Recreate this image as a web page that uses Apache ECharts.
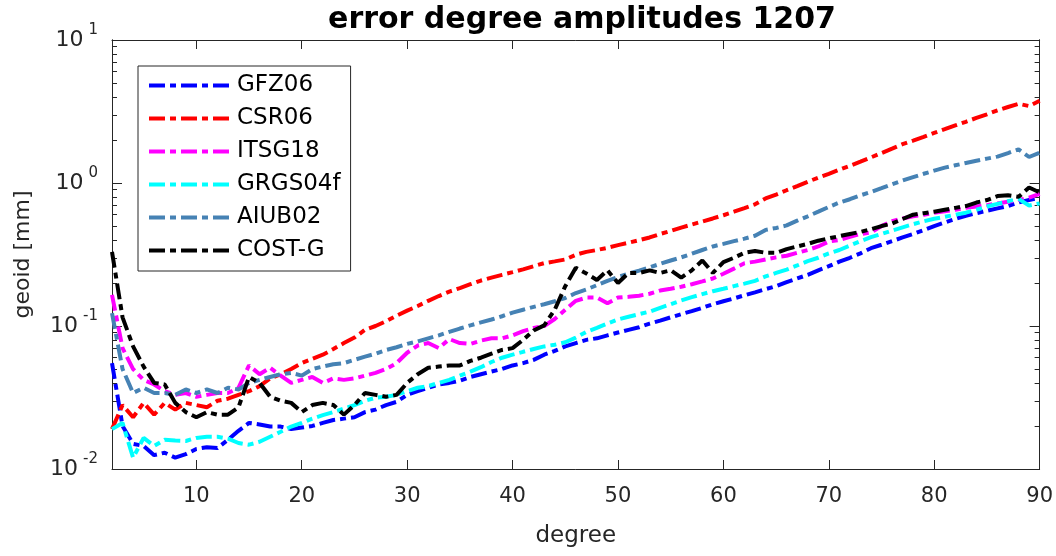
<!DOCTYPE html>
<html>
<head>
<meta charset="utf-8">
<script src="https://cdn.jsdelivr.net/npm/echarts@6/dist/echarts.min.js"></script>
<style>
  html, body { margin: 0; padding: 0; background: #fff; }
  #chart { width: 1056px; height: 556px; }
</style>
</head>
<body>
<div id="chart"></div>
<script>
// degrees 2..90
var degrees = [];
for (var d = 2; d <= 90; d++) degrees.push(d);

var gfz06 = [0.055, 0.020, 0.015, 0.0145, 0.0125, 0.013, 0.012, 0.0127, 0.0138, 0.0142,
  0.014, 0.016, 0.0185, 0.021, 0.0205, 0.0198, 0.0198, 0.019, 0.0195, 0.020,
  0.021, 0.022, 0.0225, 0.023, 0.025, 0.026, 0.028, 0.0295, 0.033, 0.035,
  0.037, 0.039, 0.040, 0.0415, 0.044, 0.046, 0.048, 0.050, 0.053, 0.055,
  0.058, 0.063, 0.067, 0.072, 0.076, 0.080, 0.082, 0.086, 0.090, 0.094,
  0.098, 0.104, 0.109, 0.115, 0.121, 0.127, 0.134, 0.142, 0.149, 0.156,
  0.164, 0.172, 0.181, 0.190, 0.203, 0.215, 0.228, 0.245, 0.262, 0.282,
  0.300, 0.322, 0.350, 0.370, 0.392, 0.416, 0.44, 0.468, 0.50, 0.53,
  0.56, 0.59, 0.615, 0.64, 0.665, 0.69, 0.73, 0.76, 0.79];

var csr06 = [0.019, 0.028, 0.023, 0.029, 0.024, 0.029, 0.026, 0.029, 0.028, 0.027,
  0.030, 0.031, 0.033, 0.035, 0.038, 0.043, 0.046, 0.050, 0.055, 0.059,
  0.063, 0.069, 0.076, 0.083, 0.094, 0.100, 0.108, 0.118, 0.128, 0.138,
  0.150, 0.162, 0.174, 0.184, 0.196, 0.208, 0.218, 0.228, 0.238, 0.249,
  0.262, 0.275, 0.283, 0.292, 0.315, 0.330, 0.340, 0.352, 0.368, 0.382,
  0.398, 0.416, 0.440, 0.462, 0.488, 0.512, 0.538, 0.565, 0.595, 0.630,
  0.668, 0.71, 0.78, 0.83, 0.89, 0.95, 1.02, 1.09, 1.16, 1.24,
  1.32, 1.41, 1.51, 1.62, 1.74, 1.87, 1.98, 2.10, 2.24, 2.38,
  2.53, 2.68, 2.85, 3.02, 3.22, 3.40, 3.58, 3.45, 3.76];

var itsg18 = [0.165, 0.070, 0.050, 0.042, 0.039, 0.035, 0.033, 0.034, 0.032, 0.033,
  0.034, 0.034, 0.037, 0.053, 0.046, 0.051, 0.045, 0.040, 0.042, 0.044,
  0.040, 0.043, 0.042, 0.043, 0.045, 0.047, 0.050, 0.055, 0.065, 0.073,
  0.076, 0.070, 0.081, 0.076, 0.075, 0.079, 0.082, 0.082, 0.086, 0.092,
  0.097, 0.100, 0.112, 0.130, 0.150, 0.158, 0.158, 0.144, 0.158, 0.160,
  0.163, 0.168, 0.177, 0.182, 0.188, 0.196, 0.205, 0.215, 0.232, 0.252,
  0.275, 0.282, 0.292, 0.302, 0.31, 0.325, 0.34, 0.36, 0.39, 0.40,
  0.42, 0.44, 0.45, 0.50, 0.54, 0.565, 0.585, 0.60, 0.62, 0.635,
  0.65, 0.67, 0.685, 0.70, 0.72, 0.74, 0.76, 0.79, 0.84];

var grgs04f = [0.019, 0.021, 0.012, 0.0165, 0.0145, 0.016, 0.0158, 0.0157, 0.0165, 0.0168,
  0.0168, 0.0163, 0.0152, 0.0148, 0.0155, 0.0168, 0.0182, 0.0198, 0.021, 0.0225,
  0.0238, 0.025, 0.0265, 0.028, 0.030, 0.0315, 0.032, 0.033, 0.035, 0.037,
  0.038, 0.040, 0.042, 0.045, 0.048, 0.0515, 0.056, 0.060, 0.063, 0.066,
  0.069, 0.072, 0.074, 0.077, 0.083, 0.091, 0.097, 0.104, 0.111, 0.116,
  0.121, 0.126, 0.134, 0.142, 0.151, 0.159, 0.167, 0.175, 0.182, 0.190,
  0.198, 0.207, 0.222, 0.235, 0.248, 0.265, 0.284, 0.300, 0.322, 0.340,
  0.365, 0.392, 0.418, 0.44, 0.465, 0.49, 0.515, 0.54, 0.562, 0.58,
  0.60, 0.62, 0.65, 0.685, 0.715, 0.745, 0.775, 0.695, 0.72];

var aiub02 = [0.123, 0.050, 0.034, 0.037, 0.034, 0.034, 0.033, 0.036, 0.034, 0.036,
  0.034, 0.037, 0.036, 0.040, 0.042, 0.044, 0.046, 0.047, 0.045, 0.050,
  0.052, 0.054, 0.055, 0.058, 0.061, 0.064, 0.068, 0.071, 0.075, 0.078,
  0.082, 0.086, 0.091, 0.096, 0.101, 0.106, 0.111, 0.117, 0.124, 0.130,
  0.136, 0.142, 0.149, 0.157, 0.170, 0.180, 0.193, 0.207, 0.220, 0.232,
  0.244, 0.257, 0.272, 0.287, 0.302, 0.320, 0.340, 0.360, 0.375, 0.392,
  0.408, 0.428, 0.470, 0.485, 0.505, 0.545, 0.585, 0.63, 0.68, 0.73,
  0.77, 0.82, 0.865, 0.92, 0.98, 1.04, 1.10, 1.16, 1.22, 1.28,
  1.33, 1.38, 1.43, 1.48, 1.53, 1.62, 1.72, 1.52, 1.63];

var costg = [0.33, 0.115, 0.072, 0.052, 0.040, 0.039, 0.029, 0.025, 0.023, 0.025,
  0.024, 0.024, 0.027, 0.044, 0.040, 0.032, 0.030, 0.029, 0.025, 0.028,
  0.029, 0.028, 0.024, 0.028, 0.034, 0.033, 0.032, 0.033, 0.040, 0.046,
  0.051, 0.052, 0.053, 0.053, 0.057, 0.060, 0.064, 0.068, 0.070, 0.080,
  0.093, 0.101, 0.130, 0.190, 0.255, 0.233, 0.210, 0.245, 0.200, 0.235,
  0.235, 0.245, 0.235, 0.245, 0.218, 0.245, 0.287, 0.235, 0.280, 0.300,
  0.325, 0.335, 0.325, 0.325, 0.345, 0.360, 0.375, 0.395, 0.41, 0.425,
  0.44, 0.455, 0.475, 0.50, 0.52, 0.56, 0.60, 0.615, 0.63, 0.65,
  0.67, 0.69, 0.73, 0.76, 0.81, 0.82, 0.80, 0.93, 0.86];

var xTicks = [10, 20, 30, 40, 50, 60, 70, 80, 90];
var yMinorTicks = [0.02, 0.03, 0.04, 0.05, 0.06, 0.07, 0.08, 0.09,
  0.2, 0.3, 0.4, 0.5, 0.6, 0.7, 0.8, 0.9,
  2, 3, 4, 5, 6, 7, 8, 9];

var names = ['GFZ06', 'CSR06', 'ITSG18', 'GRGS04f', 'AIUB02', 'COST-G'];
var colors = ['#0000ff', '#ff0000', '#ff00ff', '#00ffff', '#4682b4', '#000000'];
var values = [gfz06, csr06, itsg18, grgs04f, aiub02, costg];

var FONT = '"DejaVu Sans", sans-serif';
var AX = '#262626';
var DASH = [16, 5, 6, 5];

var pairs = function (vals) {
  var out = [];
  for (var i = 0; i < degrees.length; i++) out.push([degrees[i], vals[i]]);
  return out;
};

var series = [];
for (var i = 0; i < names.length; i++) {
  series.push({
    name: names[i],
    type: 'line',
    symbol: 'none',
    data: pairs(values[i]),
    lineStyle: { color: colors[i], width: 4, type: DASH, cap: 'butt' },
    itemStyle: { color: colors[i], opacity: 0 },
    z: 2 + i
  });
}

var yBase = function (pos, ticks, len, showLabel) {
  var a = {
    type: 'log', logBase: 10, min: 0.01, max: 10, position: pos,
    axisLine: { show: true, lineStyle: { color: AX, width: 1 } },
    axisTick: { show: true, inside: true, length: len, lineStyle: { color: AX } },
    splitLine: { show: false },
    axisLabel: { show: false }
  };
  if (ticks) a.axisTick.customValues = ticks;
  if (showLabel) {
    a.axisLabel = {
      show: true, margin: 14,
      formatter: function (v) {
        var e = Math.round(Math.log10(v));
        return '{b|10}{e|' + e + '}';
      },
      rich: {
        b: { fontSize: 22, lineHeight: 34, color: AX, fontFamily: FONT },
        e: { fontSize: 15, lineHeight: 16, color: AX, fontFamily: FONT, verticalAlign: 'top', padding: [0, 0, 0, 5] }
      }
    };
    a.name = 'geoid [mm]';
    a.nameLocation = 'middle';
    a.nameGap = 78;
    a.nameTextStyle = { fontSize: 22, color: AX, fontFamily: FONT };
  }
  return a;
};

var xBase = function (pos, showLabel) {
  var a = {
    type: 'value', min: 2, max: 90, position: pos,
    axisLine: { show: true, lineStyle: { color: AX, width: 1 } },
    axisTick: { show: true, inside: true, length: 9, customValues: xTicks, lineStyle: { color: AX } },
    splitLine: { show: false },
    axisLabel: { show: false }
  };
  if (showLabel) {
    a.axisLabel = { show: true, customValues: xTicks, fontSize: 21, color: AX, fontFamily: FONT, margin: 17 };
    a.name = 'degree';
    a.nameLocation = 'middle';
    a.nameGap = 56;
    a.nameTextStyle = { fontSize: 23, color: AX, fontFamily: FONT };
  }
  return a;
};

var option = {
  animation: false,
  backgroundColor: '#fff',
  title: {
    text: 'error degree amplitudes 1207',
    left: 577, top: 0, textAlign: 'center',
    textStyle: { fontSize: 30, fontWeight: 'bold', color: '#000', fontFamily: FONT }
  },
  grid: { left: 112, right: 15, top: 40, bottom: 87 },
  legend: {
    orient: 'vertical', left: 138, top: 66,
    data: names,
    itemWidth: 83, itemHeight: 22, itemGap: 10, itemTextGap: 8,
    padding: [8, 10, 9, 9],
    borderColor: AX, borderWidth: 1, backgroundColor: '#fff',
    itemStyle: { opacity: 0 },
    lineStyle: { width: 4, type: DASH, cap: 'butt' },
    textStyle: { fontSize: 23, color: '#000', fontFamily: FONT },
    selectedMode: false
  },
  xAxis: [xBase('bottom', true), xBase('top', false)],
  yAxis: [
    yBase('left', null, 10, true),
    yBase('left', yMinorTicks, 5, false),
    yBase('right', null, 10, false),
    yBase('right', yMinorTicks, 5, false)
  ],
  series: series
};

var chart = echarts.init(document.getElementById('chart'), null, { renderer: 'canvas' });
chart.setOption(option);
</script>
</body>
</html>
